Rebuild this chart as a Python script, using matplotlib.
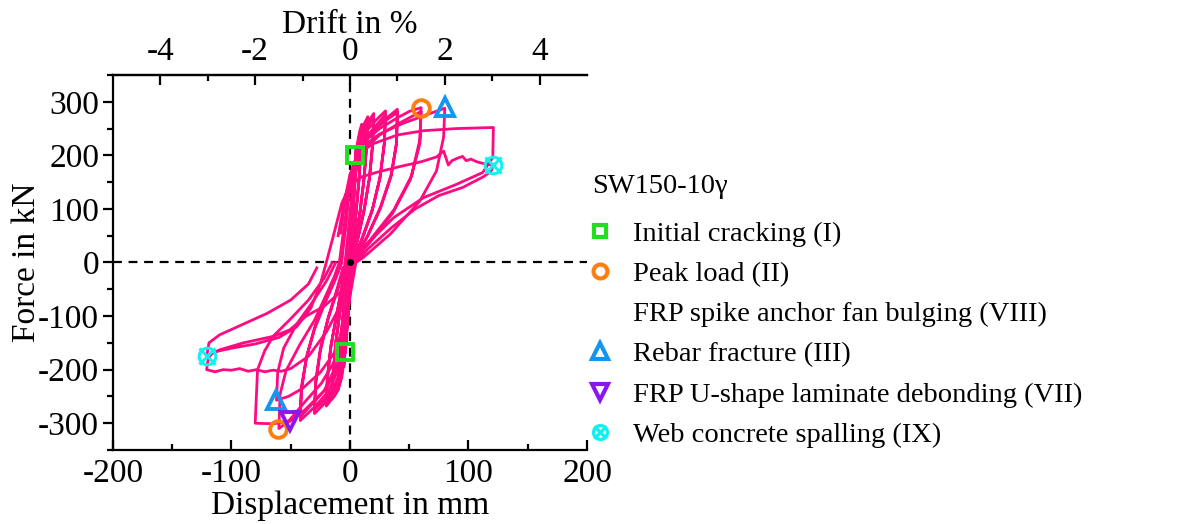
import matplotlib.pyplot as plt
from matplotlib.lines import Line2D

plt.rcParams['font.family'] = ['Liberation Serif', 'DejaVu Serif']
plt.rcParams['axes.unicode_minus'] = False

# cyclic load-displacement record, grouped by target displacement (mm, kN)
d02 = [0, 0.8, 1.8, 2.2, 1.6, 0.6, -0.6, -1.6, -2.2, -1.7, -0.6, 0.4, 1.4, 2.1, 1.5, 0.5, -0.7, -1.7, -2.1, -1.5, -0.4]
f02 = [0, 55, 110, 135, 100, 40, -30, -85, -120, -90, -30, 25, 85, 125, 90, 30, -40, -90, -112, -80, -20]

d05 = [0.4, 1.8, 3.4, 4.8, 5.2, 4.6, 3.2, 1.5, 0.2, -1.2, -2.8, -4.5, -5.2, -4.6, -3.2, -1.6, -0.4,
       1, 2.6, 4.2, 5.1, 4.5, 3, 1.3, 0, -1.4, -3, -4.6, -5.1, -4.4, -2.8, -1.2]
f05 = [20, 95, 160, 200, 215, 185, 120, 55, 0, -60, -120, -175, -195, -160, -100, -45, -5,
       50, 125, 180, 205, 175, 110, 45, -10, -70, -130, -175, -188, -150, -85, -30]

d10 = [0, 1.5, 3.5, 6, 8.5, 10, 9.4, 7.8, 5.2, 2.6, 0.8, -0.8, -2.5, -5, -7.8, -10, -9.4, -7.6, -5, -2.4, -0.8,
       0.8, 2.6, 5, 7.8, 9.8, 9.2, 7.4, 4.8, 2.2, 0.5, -1.2, -3, -5.5, -8, -9.8, -9.1, -7.2, -4.6, -2]
f10 = [10, 90, 165, 220, 248, 258, 220, 160, 95, 40, 5, -45, -110, -175, -220, -238, -200, -140, -80, -30, 0,
       45, 120, 190, 235, 250, 212, 150, 85, 30, -5, -60, -125, -185, -220, -232, -190, -130, -70, -20]

d15 = [-0.5, 1, 3, 6, 10, 15, 14.2, 12, 8.5, 4.8, 2, 0.3, -1.5, -3.5, -6.5, -10.5, -15, -14.3, -12, -8.3, -4.5, -1.6,
       0, 2, 4.5, 8, 12, 15, 14.2, 11.8, 8.2, 4.5, 1.6, -0.2, -2, -4.5, -8, -11.5, -15, -14.2, -11.8, -8, -4.2, -1.4]
f15 = [0, 60, 140, 210, 250, 272, 225, 160, 95, 45, 15, -20, -80, -150, -205, -240, -255, -212, -150, -90, -40, -10,
       30, 100, 180, 230, 255, 266, 220, 155, 90, 40, 10, -25, -90, -160, -210, -238, -248, -205, -145, -85, -35, -5]

d20 = [0, 2, 5, 9, 14, 20, 19.2, 16.5, 12, 7, 3, 0.8, -1.2, -3.5, -7, -12, -20, -19.2, -16.4, -11.5, -7, -4,
       -2, 1, 4.5, 9, 14, 20, 19.2, 16.3, 11.8, 6.8, 2.8, 0.5, -1.5, -4, -8, -13, -20, -19.1, -16, -11, -7, -4]
f20 = [0, 80, 170, 230, 258, 278, 225, 160, 100, 50, 15, -15, -80, -160, -215, -245, -268, -220, -160, -100, -50, -10,
       30, 100, 175, 222, 250, 272, 220, 155, 95, 45, 12, -20, -90, -165, -215, -242, -262, -215, -155, -95, -45, -5]

d30 = [-2, 0, 3, 8, 15, 22, 30, 29, 25.5, 19, 11, 5, 1.5, -0.5, -2.5, -6, -12, -20, -30, -29, -25, -18.5, -11, -6, -4,
       -2, 2, 7, 15, 22, 30, 29, 25, 18.5, 10.5, 4.5, 1, -1, -3.5, -7.5, -14, -21, -30, -29, -25, -18, -11, -6]
f30 = [0, 60, 150, 210, 248, 266, 283, 225, 160, 100, 50, 18, 0, -40, -120, -190, -235, -260, -282, -228, -165, -105, -55, -20, 0,
       45, 130, 195, 236, 256, 276, 220, 155, 95, 45, 12, -15, -60, -140, -200, -235, -255, -274, -222, -160, -100, -50, -10]

d40 = [-4, -2, 0, 3, 8, 18, 30, 40, 39.3, 35, 26, 15, 7, 3, 0, -4, -9, -18, -30, -42, -41, -37, -30, -21, -12, -7,
       -4, -1, 3, 10, 22, 32, 40, 39.2, 34.5, 25.5, 14.5, 6.5, 3, 0, -4, -10, -20, -31, -42, -41, -36, -29, -20, -12, -7]
f40 = [0, 40, 90, 155, 210, 245, 268, 286, 225, 165, 105, 50, 20, 0, -60, -140, -195, -240, -270, -295, -240, -180, -125, -75, -30, 0,
       60, 130, 180, 220, 250, 268, 280, 220, 160, 100, 48, 15, 0, -55, -130, -190, -235, -262, -288, -232, -170, -115, -65, -25, 0]

d60 = [-4, -1, 4, 12, 25, 40, 50, 60, 59, 52, 37, 17, 6, 3, 0, -5, -12, -24, -38, -51, -60,
       -59, -54, -42, -30, -20, -13, -9,
       -6, -2, 3, 12, 25, 40, 50, 60, 59, 51, 36, 17, 6, 3, 0, -5, -12, -25, -40, -52, -62,
       -61, -56, -45, -32, -20, -12]
f60 = [60, 130, 185, 225, 250, 270, 282, 289, 230, 162, 98, 42, 14, 0, -50, -120, -180, -225, -260, -294, -310,
       -246, -202, -152, -108, -60, -25, 0,
       50, 115, 170, 210, 238, 258, 270, 282, 222, 155, 92, 38, 10, 0, -45, -110, -165, -205, -235, -250, -257,
       -205, -160, -115, -75, -35, 0]

d80 = [-8, -3, 3, 10, 25, 45, 65, 80, 79, 73, 59, 34, 11, 5, 1, -4, -10, -22, -38, -51, -65, -80,
       -79, -78, -72, -65, -50, -35, -22, -15]
f80 = [55, 130, 185, 215, 240, 260, 276, 288, 234, 171, 115, 53, 9, 0, -50, -120, -185, -240, -275, -297, -301, -300,
       -250, -200, -165, -138, -105, -70, -30, 0]

d120 = [-10, -5, 0, 8, 20, 40, 62, 90, 121, 120.5, 112, 90, 62, 37, 14, 4,
        0, -8, -20, -35, -50, -58, -65, -72, -79, -86, -93, -100, -107, -114, -121,
        -120, -117, -100, -80, -60, -45, -33, -25, -20,
        -14, -7, 0, 10, 22, 40, 60, 73, 79, 83, 86, 91, 95, 98, 102, 107, 112, 118, 121,
        119, 112.5, 95, 75, 55, 35, 15, 5,
        0, -8, -22, -37, -51, -65, -90, -110, -121, -119, -110, -90, -70, -50, -35, -28]
f120 = [50, 110, 165, 205, 222, 238, 246, 250, 252, 196, 168, 146, 121, 84, 34, 0,
        -35, -80, -130, -175, -198, -203, -201, -204, -200, -203, -198, -201, -200, -204, -200,
        -185, -168, -160, -152, -140, -120, -85, -40, 0,
        50, 110, 145, 160, 168, 178, 188, 197, 208, 182, 190, 195, 198, 190, 193, 188, 185, 183, 182,
        170, 160, 140, 125, 100, 65, 25, 0,
        -25, -55, -82, -100, -126, -138, -150, -163, -176, -150, -135, -115, -95, -70, -40, -10]

# observed damage states (displacement, force)
cracking_d, cracking_f = [4.2, -4.2], [200, -167]
peak_d, peak_f = [60, -61], [289, -310]
rebar_d, rebar_f = [80, -62.5], [291, -257]
debond_d, debond_f = [-50.6], [-296]
spalling_d, spalling_f = [121, -121], [182, -174]

wall_height = 4000.0  # mm, for drift in %

curve_color = '#ff0a80'
c_green = '#1ee01e'
c_orange = '#ff7f0e'
c_blue = '#1496f0'
c_purple = '#8a16f0'
c_cyan = '#14f0f0'

fig = plt.figure(figsize=(11.83, 5.24), dpi=100)
ax = fig.add_axes([0.0955, 0.1412, 0.4007, 0.7157])

for d, f in [(d02, f02), (d05, f05), (d10, f10), (d15, f15), (d20, f20), (d30, f30),
             (d40, f40), (d60, f60), (d80, f80), (d120, f120)]:
    ax.plot(d, f, color=curve_color, lw=2.0, zorder=2)

ax.axhline(0, color='black', ls=(0, (4, 3)), lw=1.6, zorder=1)
ax.axvline(0, color='black', ls=(0, (4, 3)), lw=1.6, zorder=1)
ax.plot([0], [0], 'o', color='black', ms=4, zorder=3)

mk = dict(linestyle='none', markerfacecolor='none', zorder=4)
ax.plot(cracking_d, cracking_f, marker='s', ms=11, mew=2.8, color=c_green, **mk)
ax.plot(peak_d, peak_f, marker='o', ms=12, mew=2.8, color=c_orange, **mk)
ax.plot(rebar_d, rebar_f, marker='^', ms=13, mew=2.8, color=c_blue, **mk)
ax.plot(debond_d, debond_f, marker='v', ms=13, mew=2.8, color=c_purple, **mk)
ax.plot(spalling_d, spalling_f, marker='o', ms=12, mew=2.2, color=c_cyan, **mk)
ax.plot(spalling_d, spalling_f, marker='x', ms=12, mew=2.2, color=c_cyan, linestyle='none', zorder=4)

ax.set_xlim(-200, 200)
ax.set_ylim(-350, 350)
ax.set_xticks([-200, -100, 0, 100, 200])
ax.set_xticks([-150, -50, 50, 150], minor=True)
ax.set_yticks([-300, -200, -100, 0, 100, 200, 300])
ax.set_yticks(range(-350, 351, 50), minor=True)
ax.spines['right'].set_visible(False)
for s in ['left', 'bottom', 'top']:
    ax.spines[s].set_linewidth(1.6)
ax.tick_params(axis='x', which='both', direction='in', labelsize=24, pad=6, width=1.6)
ax.tick_params(axis='x', which='major', length=7)
ax.tick_params(axis='x', which='minor', length=4)
ax.tick_params(axis='y', which='both', direction='out', labelsize=24, pad=3, width=1.6)
ax.tick_params(axis='y', which='major', length=7)
ax.tick_params(axis='y', which='minor', length=4)
ax.set_xlabel('Displacement in mm', fontsize=24, labelpad=1)
ax.set_ylabel('Force in kN', fontsize=24, labelpad=-3)

top = ax.secondary_xaxis('top', functions=(lambda x: x / wall_height * 100,
                                           lambda p: p * wall_height / 100))
top.set_xticks([-4, -2, 0, 2, 4])
top.set_xticks([-3, -1, 1, 3], minor=True)
top.spines['top'].set_linewidth(1.6)
top.tick_params(which='both', direction='in', labelsize=24, pad=6, width=1.6)
top.tick_params(which='major', length=7)
top.tick_params(which='minor', length=4)
top.set_xlabel('Drift in %', fontsize=24, labelpad=2)

sq = Line2D([], [], marker='s', ms=9, mew=3, color=c_green, mfc='none', ls='none')
ci = Line2D([], [], marker='o', ms=10, mew=3, color=c_orange, mfc='none', ls='none')
blank = Line2D([], [], marker='None', ls='none')
up = Line2D([], [], marker='^', ms=11, mew=3, color=c_blue, mfc='none', ls='none')
dn = Line2D([], [], marker='v', ms=11, mew=3, color=c_purple, mfc='none', ls='none')
cy_o = Line2D([], [], marker='o', ms=10, mew=2.4, color=c_cyan, mfc='none', ls='none')
cy_x = Line2D([], [], marker='x', ms=8, mew=2.4, color=c_cyan, ls='none')

# specimen name above the damage-state legend
fig.text(0.5004, 0.645, 'SW150-10γ', fontsize=20.5, ha='left', va='center')
fig.legend([sq, ci, blank, up, dn, (cy_o, cy_x)],
           ['Initial cracking (I)', 'Peak load (II)', 'FRP spike anchor fan bulging (VIII)',
            'Rebar fracture (III)', 'FRP U-shape laminate debonding (VII)', 'Web concrete spalling (IX)'],
           fontsize=20.5, loc='center left', bbox_to_anchor=(0.483, 0.362), frameon=False,
           handlelength=0.6, handletextpad=0.85, labelspacing=0.5, borderpad=0.2)

fig.savefig('out.png', dpi=100)
